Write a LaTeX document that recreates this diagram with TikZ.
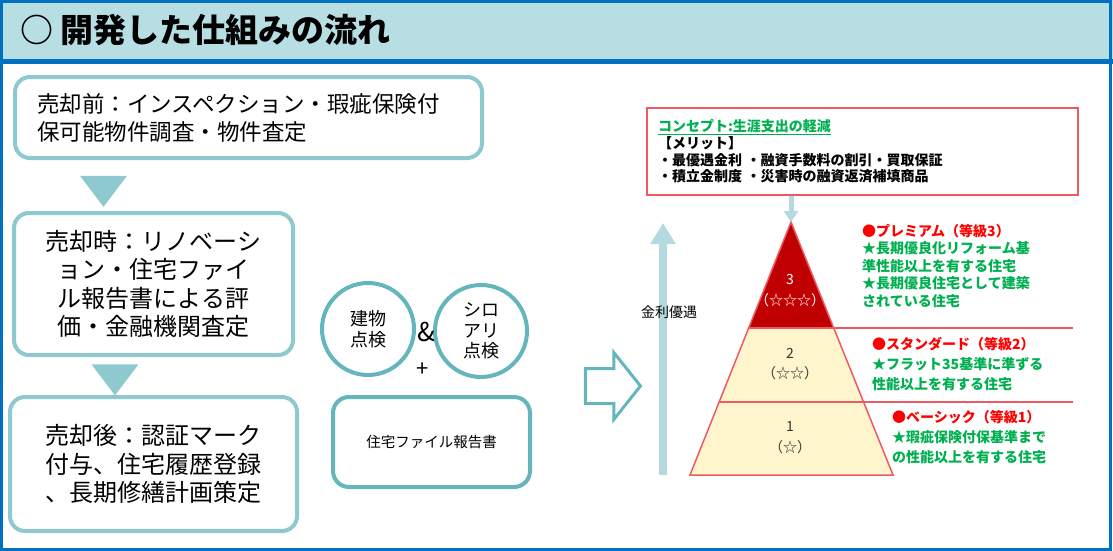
\documentclass[tikz,border=0pt]{standalone}
\usepackage{fontspec}
\setmainfont{Noto Sans CJK JP}
\usetikzlibrary{arrows.meta, positioning, shapes.arrows, shapes.geometric, calc}

\definecolor{frameblue}{HTML}{0070C0}
\definecolor{headfill}{HTML}{B7DEE3}
\definecolor{boxline}{HTML}{8EC9D0}
\definecolor{ringline}{HTML}{64B5BC}
\definecolor{riseblue}{HTML}{B4DADF}
\definecolor{meritred}{HTML}{EE5A64}
\definecolor{topred}{HTML}{C00000}
\definecolor{baseyellow}{HTML}{FFF5CC}
\definecolor{gradegreen}{HTML}{00B050}
\definecolor{gradered}{HTML}{FF0000}

\begin{document}
\begin{tikzpicture}[x=1pt, y=-1pt,
stepbox/.style = {rectangle, rounded corners=15pt, draw=boxline, line width=4pt, fill=white,
  inner sep=0pt, outer sep=0pt, align=center, font=\fontsize{24}{28.5}\selectfont},
drop/.style = {% flow marker
  isosceles triangle, isosceles triangle stretches, shape border rotate=-90,
  minimum width=47pt, minimum height=31pt, inner sep=0pt, fill=boxline},
ring/.style = {circle, draw=ringline, line width=4pt, minimum size=92pt, inner sep=0pt,
  align=center, font=\fontsize{18}{20.5}\selectfont},
grade/.style = {anchor=north west, inner sep=0pt, align=left, text=gradegreen,
  font=\bfseries\fontsize{14}{17.5}\selectfont},
tier/.style = {inner sep=0pt, text=black!80, font=\fontsize{14}{16}\selectfont},
rise/.style = {-{Triangle[width=24pt, length=21pt]}, line width=8pt, draw=riseblue}]
\useasboundingbox (0,0) rectangle (1113,551);
% header
\fill[headfill] (0,0) rectangle (1113,61);
\draw[frameblue, line width=5pt] (0,61.5) -- (1113,61.5);
\draw[frameblue, line width=3pt] (1,1.5) rectangle (1110,549.5);
\node[anchor=west, inner sep=0pt, font=\bfseries\fontsize{33}{36}\selectfont] (title) at (20,30)
  {○ 開発した仕組みの流れ};
% left flow
\node[stepbox, minimum width=467pt, minimum height=81pt, text width=423pt, align=left,
  font=\fontsize{22.5}{28}\selectfont] (B1) at (248.5,117.5)
  {売却前：インスペクション・瑕疵保険付\\保可能物件調査・物件査定};
\node[drop] (D1) at (103.5,187.5) {};
\node[stepbox, minimum width=279pt, minimum height=142pt] (B2) at (153.5,284)
  {売却時：リノベーシ\\ョン・住宅ファイ\\ル報告書による評\\価・金融機関査定};
\node[drop] (D2) at (115,376) {};
\node[stepbox, minimum width=287pt, minimum height=134pt] (B3) at (153.5,464)
  {売却後：認証マーク\\付与、住宅履歴登録\\、長期修繕計画策定};
% middle
\node[ring] (C1) at (368,329) {建物\\点検};
\node[ring] (C2) at (481,331) {シロ\\アリ\\点検};
\node[font=\fontsize{26}{26}\selectfont] (amp) at (426,332) {\&};
\node[font=\fontsize{22}{22}\selectfont] (plus) at (423,370) {+};
\node[stepbox, draw=ringline, rounded corners=16pt, minimum width=197pt, minimum height=90pt,
  font=\fontsize{14.5}{16}\selectfont] (file) at (431.5,442) {住宅ファイル報告書};
\node[single arrow, draw=ringline, line width=3pt, fill=white, inner xsep=0pt, inner ysep=16pt,
  minimum height=55pt, single arrow head extend=16pt,
  single arrow tip angle=103] (go) at (606,386) {};
% right: concept box
\node[draw=meritred, line width=2pt, minimum width=431pt, minimum height=87pt, inner sep=0pt,
  text width=409pt, align=left, font=\bfseries\fontsize{14}{16.7}\selectfont] (merit) at (862.5,151.5)
  {\textcolor{gradegreen}{\underline{コンセプト:生涯支出の軽減}}\\【メリット】\\
   ・最優遇金利 ・融資手数料の割引・買取保証\\・積立金制度 ・災害時の融資返済補填商品};
% pyramid
\coordinate (apex) at (791,222);
\coordinate (bl) at (690,475);
\coordinate (br) at (893,475);
\coordinate (rim) at (1073,0);
\coordinate (t1l) at ($(apex)!0.419!(bl)$);
\coordinate (t1r) at ($(apex)!0.419!(br)$);
\coordinate (t2l) at ($(apex)!0.711!(bl)$);
\coordinate (t2r) at ($(apex)!0.711!(br)$);
\filldraw[fill=baseyellow, draw=meritred, line width=1.5pt] (t1l) -- (t1r) -- (br) -- (bl) -- cycle;
\filldraw[fill=topred, draw=meritred, line width=1.5pt] (apex) -- (t1r) -- (t1l) -- cycle;
\draw[meritred, line width=1.5pt] (t1l) -- (t1l -| rim);
\draw[meritred, line width=1.5pt] (t2l) -- (t2l -| rim);
\draw[rise, line width=5pt, -{Triangle[width=14pt, length=11pt]}] (merit.south -| apex) -- (apex);
\coordinate (rise0) at (663,475);
\coordinate (rise1) at (663,223);
\draw[rise] (rise0) -- (rise1);
\node[inner sep=0pt, font=\fontsize{14}{14}\selectfont] (rate) at (669,312) {金利優遇};
\node[tier, text=white] (n3) at (790,280) {3};
\node[tier, text=white, below=8pt of n3] (s3) {（☆☆☆）};
\node[tier] (n2) at (790,353) {2};
\node[tier, below=8pt of n2] (s2) {（☆☆）};
\node[tier] (n1) at (790,427) {1};
\node[tier, below=8pt of n1] (s1) {（☆）};
% grades
\node[grade] (g3) at (862,224) {\textcolor{gradered}{●プレミアム（等級3）}\\★長期優良化リフォーム基\\
  準性能以上を有する住宅\\★長期優良住宅として建築\\されている住宅};
\node[grade, font=\bfseries\fontsize{14}{20}\selectfont] (g2) at (872,337)
  {\textcolor{gradered}{●スタンダード（等級2）}\\★フラット35基準に準ずる\\性能以上を有する住宅};
\node[grade, font=\bfseries\fontsize{14}{20}\selectfont] (g1) at (892,410)
  {\textcolor{gradered}{●ベーシック（等級1）}\\★瑕疵保険付保基準まで\\の性能以上を有する住宅};
\end{tikzpicture}
\end{document}
